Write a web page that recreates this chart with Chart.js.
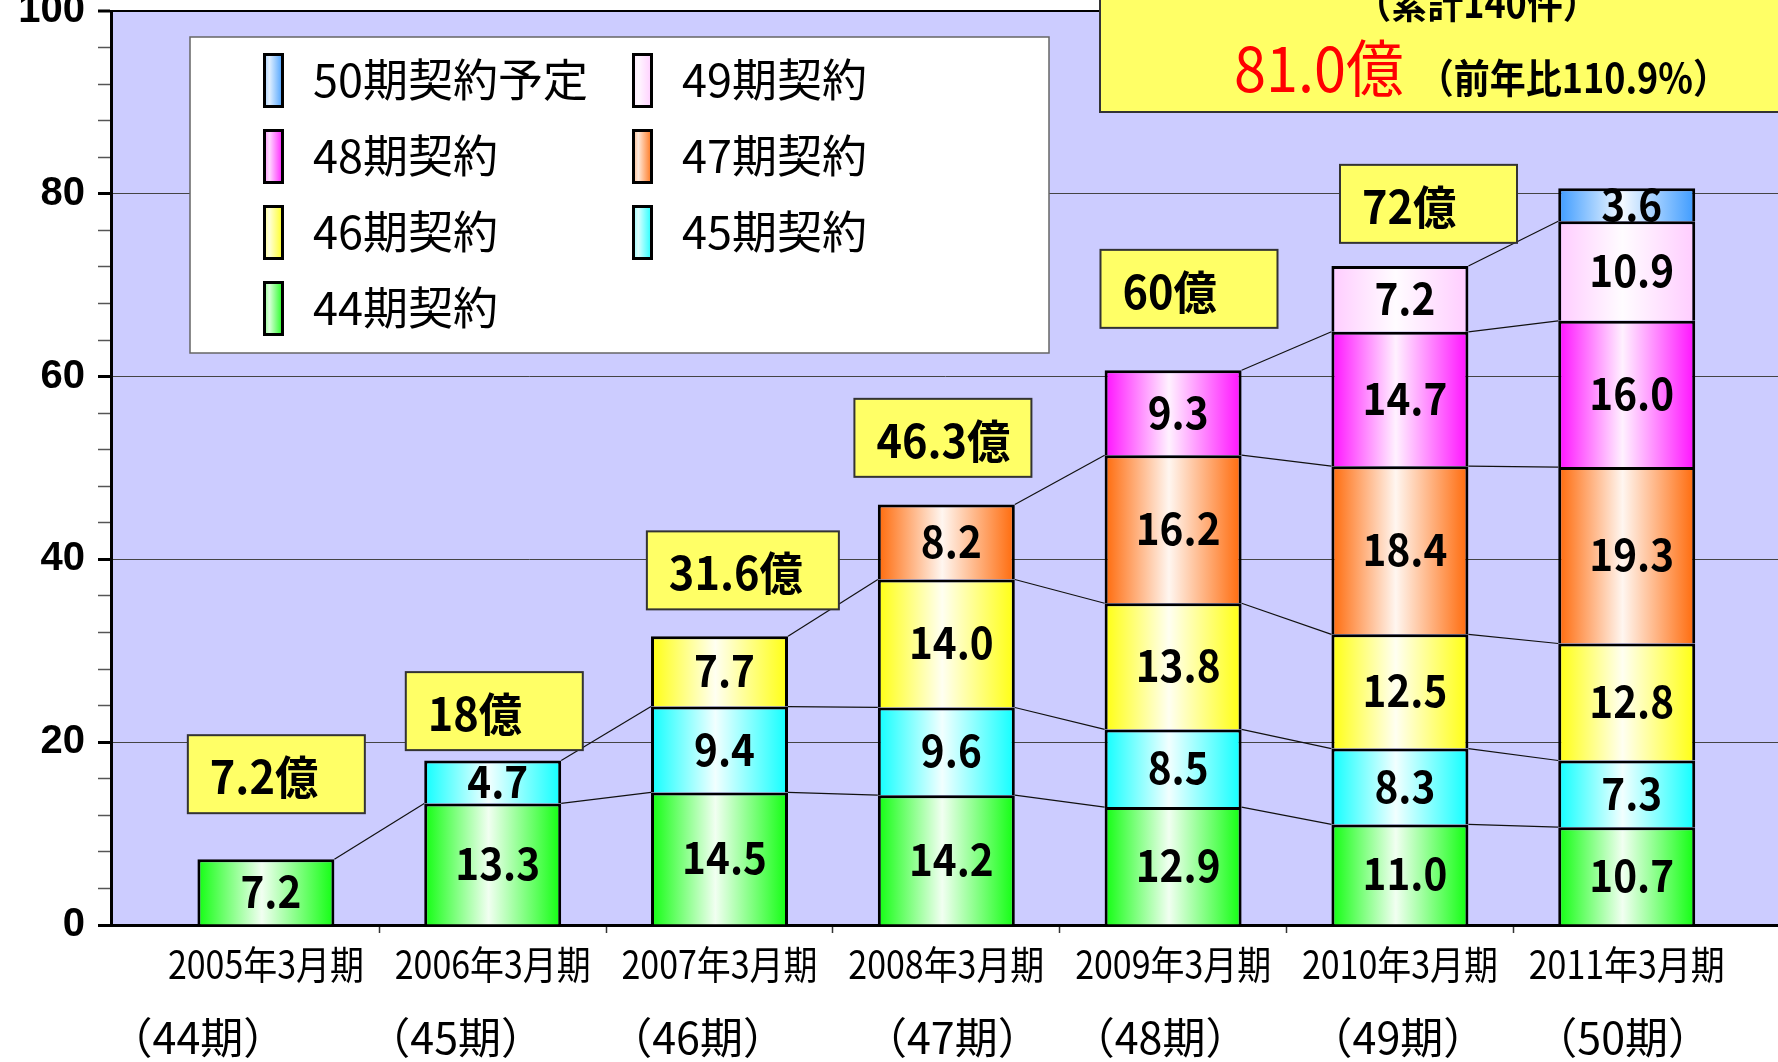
<!DOCTYPE html>
<html>
<head>
<meta charset="utf-8">
<script src="https://cdn.jsdelivr.net/npm/chart.js@4.4.0/dist/chart.umd.min.js"></script>
<style>
  html, body { margin: 0; padding: 0; background: #fff; }
  canvas { display: block; }
</style>
</head>
<body>
<canvas id="chart" width="1778" height="1062"></canvas>
<script>
// 期ごとのカテゴリ
const periods = ['2005年3月期', '2006年3月期', '2007年3月期', '2008年3月期', '2009年3月期', '2010年3月期', '2011年3月期'];
const periodNos = ['（44期）', '（45期）', '（46期）', '（47期）', '（48期）', '（49期）', '（50期）'];

// 系列（下から順に積み上げ）
const seriesNames = ['44期契約', '45期契約', '46期契約', '47期契約', '48期契約', '49期契約', '50期契約予定'];
const c44 = [7.2, 13.3, 14.5, 14.2, 12.9, 11.0, 10.7];
const c45 = [null, 4.7, 9.4, 9.6, 8.5, 8.3, 7.3];
const c46 = [null, null, 7.7, 14.0, 13.8, 12.5, 12.8];
const c47 = [null, null, null, 8.2, 16.2, 18.4, 19.3];
const c48 = [null, null, null, null, 9.3, 14.7, 16.0];
const c49 = [null, null, null, null, null, 7.2, 10.9];
const c50 = [null, null, null, null, null, null, 3.6];

// 合計の吹き出し
const totalLabels = ['7.2億', '18億', '31.6億', '46.3億', '60億', '72億'];
const summaryCount = '（累計140件）';
const summaryTotal = '81.0億';
const summaryRatio = '（前年比110.9%）';

// Y軸目盛
const yLabels = [0, 20, 40, 60, 80, 100];

// --------------------------------------------
const seriesValues = [c44, c45, c46, c47, c48, c49, c50];
const stackColors = ['#11ff11', '#11ffff', '#ffff11', '#ff6a0a', '#ff11ff', '#ffccff', '#3d9bff'];
const BAR_PCT = 0.604;
const JP = '"Noto Sans CJK JP", "Noto Sans CJK SC", sans-serif';

// 吹き出しの位置（データ単位）と幅
const boxSpots = [
  { x: 0.046, y: 16.5, w: 177 },
  { x: 1.007, y: 23.4, w: 177 },
  { x: 2.103, y: 38.8, w: 192 },
  { x: 2.985, y: 53.3, w: 177 },
  { x: 4.07, y: 69.6, w: 177 },
  { x: 5.126, y: 78.9, w: 177 }
];
// 期番号ラベルのずれ
const periodNoShift = [-68, -37, -22, 6, -13, -2, -4];

function mixWhite(hex, t) {
  const n = parseInt(hex.slice(1), 16);
  const r = (n >> 16) & 255, g = (n >> 8) & 255, b = n & 255;
  const m = v => Math.round(v + (255 - v) * t);
  return 'rgb(' + m(r) + ',' + m(g) + ',' + m(b) + ')';
}

function barFill(base) {
  return (ctx) => {
    const xs = ctx.chart.scales.x;
    if (ctx.type !== 'data' || !xs) return base;
    const cx = xs.getPixelForValue(ctx.dataIndex);
    const half = (xs.getPixelForValue(1) - xs.getPixelForValue(0)) * BAR_PCT / 2;
    if (!isFinite(cx) || !isFinite(half)) return base;
    const g = ctx.chart.ctx.createLinearGradient(cx - half, 0, cx + half, 0);
    g.addColorStop(0, base);
    g.addColorStop(0.47, mixWhite(base, 0.94));
    g.addColorStop(1, base);
    return g;
  };
}

function text(ctx, str, x, y, font, align, sx, color) {
  ctx.save();
  ctx.font = font;
  ctx.fillStyle = color || '#000';
  ctx.textAlign = align;
  ctx.textBaseline = 'alphabetic';
  ctx.translate(x, y);
  ctx.scale(sx, 1);
  ctx.fillText(str, 0, 0);
  ctx.restore();
}

function textWidth(ctx, str, font, sx) {
  ctx.save();
  ctx.font = font;
  const w = ctx.measureText(str).width * sx;
  ctx.restore();
  return w;
}

const datasets = seriesValues.map((vals, s) => ({
  label: seriesNames[s],
  data: vals.map((v, i) => ({ x: i, y: v })),
  backgroundColor: barFill(stackColors[s]),
  borderColor: '#000',
  borderWidth: 3,
  barPercentage: BAR_PCT,
  categoryPercentage: 1,
  stack: 'total'
}));

const plotBg = {
  id: 'plotBg',
  beforeDraw(chart) {
    const a = chart.chartArea, ctx = chart.ctx;
    ctx.save();
    ctx.fillStyle = '#ccccff';
    ctx.fillRect(a.left, a.top, a.right - a.left, a.bottom - a.top);
    ctx.restore();
  }
};

const seriesLines = {
  id: 'seriesLines',
  afterDatasetsDraw(chart) {
    const ctx = chart.ctx;
    ctx.save();
    ctx.strokeStyle = '#111';
    ctx.lineWidth = 1.2;
    chart.data.datasets.forEach((ds, d) => {
      const meta = chart.getDatasetMeta(d);
      for (let i = 0; i < ds.data.length - 1; i++) {
        if (ds.data[i].y == null || ds.data[i + 1].y == null) continue;
        const a = meta.data[i], b = meta.data[i + 1];
        ctx.beginPath();
        ctx.moveTo(a.x + a.width / 2, a.y);
        ctx.lineTo(b.x - b.width / 2, b.y);
        ctx.stroke();
      }
    });
    ctx.restore();
    // 値ラベル
    chart.data.datasets.forEach((ds, d) => {
      const meta = chart.getDatasetMeta(d);
      ds.data.forEach((p, i) => {
        if (p.y == null) return;
        const el = meta.data[i];
        const cy = (el.y + el.base) / 2;
        text(ctx, p.y.toFixed(1), el.x + 5, cy + 16, 'bold 44px ' + JP, 'center', 0.92);
      });
    });
  }
};

const extras = {
  id: 'extras',
  afterDraw(chart) {
    const ctx = chart.ctx, xs = chart.scales.x, ys = chart.scales.y;

    // X軸ラベル
    periods.forEach((p, i) => {
      const cx = xs.getPixelForValue(i);
      text(ctx, p, cx, 979, '39px ' + JP, 'center', 0.87);
      text(ctx, periodNos[i], cx + periodNoShift[i], 1054, '43px ' + JP, 'center', 1);
    });

    // 合計の吹き出し
    totalLabels.forEach((t, i) => {
      const s = boxSpots[i];
      const cx = xs.getPixelForValue(s.x), cy = ys.getPixelForValue(s.y);
      const h = 78, left = cx - s.w / 2, top = cy - h / 2;
      ctx.save();
      ctx.fillStyle = '#ffff66';
      ctx.fillRect(left, top, s.w, h);
      ctx.strokeStyle = '#333';
      ctx.lineWidth = 2;
      ctx.strokeRect(left, top, s.w, h);
      ctx.restore();
      text(ctx, t, left + 22, cy + 20, 'bold 46px ' + JP, 'left', 0.94);
    });

    // 右上の合計ボックス
    ctx.save();
    ctx.fillStyle = '#ffff66';
    ctx.fillRect(1100, -5, 700, 117);
    ctx.strokeStyle = '#333';
    ctx.lineWidth = 2;
    ctx.strokeRect(1100, -5, 700, 117);
    ctx.restore();
    text(ctx, summaryCount, 1477, 18, 'bold 40px ' + JP, 'center', 0.9);
    const f1 = '62px ' + JP, f2 = 'bold 40px ' + JP;
    const w1 = textWidth(ctx, summaryTotal, f1, 0.93);
    text(ctx, summaryTotal, 1234, 92, f1, 'left', 0.93, '#ff0000');
    text(ctx, summaryRatio, 1234 + w1 + 14, 93, f2, 'left', 0.9);

    // 凡例
    ctx.save();
    ctx.fillStyle = '#fff';
    ctx.fillRect(190, 37, 859, 316);
    ctx.strokeStyle = '#666';
    ctx.lineWidth = 1.5;
    ctx.strokeRect(190, 37, 859, 316);
    ctx.restore();
    const order = chart.data.datasets.map((_, d) => d).reverse();
    order.forEach((d, k) => {
      const col = k % 2, row = Math.floor(k / 2);
      const sx = col === 0 ? 263 : 632;
      const cy = 80.5 + row * 76;
      const base = stackColors[d];
      const g = ctx.createLinearGradient(sx, 0, sx + 21, 0);
      g.addColorStop(0, mixWhite(base, 0.45));
      g.addColorStop(0.3, mixWhite(base, 0.85));
      g.addColorStop(1, base);
      ctx.save();
      ctx.fillStyle = '#000';
      ctx.fillRect(sx, cy - 27.5, 21, 55);
      ctx.fillStyle = g;
      ctx.fillRect(sx + 3, cy - 24.5, 15, 49);
      ctx.restore();
      text(ctx, chart.data.datasets[d].label, sx + 50, cy + 16, '45px ' + JP, 'left', 1);
    });
  }
};

new Chart(document.getElementById('chart'), {
  type: 'bar',
  data: { datasets: datasets },
  options: {
    responsive: false,
    animation: false,
    events: [],
    layout: { padding: { top: 11, left: 0, right: 0, bottom: 0 } },
    plugins: { legend: { display: false }, tooltip: { enabled: false } },
    scales: {
      x: {
        type: 'linear',
        stacked: true,
        offset: false,
        min: -0.683,
        max: 6.667,
        afterBuildTicks(axis) {
          axis.ticks = periods.slice(1).map((_, i) => ({ value: i + 0.5 }));
        },
        ticks: { display: false },
        grid: { offset: false, drawOnChartArea: false, drawTicks: true, tickLength: 8, tickColor: '#333', tickWidth: 1.5 },
        border: { display: true, color: '#000', width: 3 },
        afterFit(axis) {
          axis.height = 137;
          axis.paddingLeft = 0;
          axis.paddingRight = 0;
        }
      },
      y: {
        stacked: true,
        min: 0,
        max: 100,
        ticks: {
          stepSize: 4,
          autoSkip: false,
          padding: 13,
          color: '#000',
          font: { family: '"Liberation Sans", Arial, sans-serif', size: 40, weight: 'bold' },
          callback: v => yLabels.includes(v) ? String(v) : ''
        },
        grid: {
          color: c => {
            const v = c.tick.value;
            if (v === 0) return 'rgba(0,0,0,0)';
            if (v === 100) return '#000';
            return v % 20 === 0 ? '#444' : 'rgba(0,0,0,0)';
          },
          lineWidth: c => c.tick.value === 100 ? 2 : 1,
          tickLength: 13,
          tickColor: c => c.tick.value % 20 === 0 ? '#000' : '#555',
          tickWidth: c => c.tick.value % 20 === 0 ? 3 : 1.5
        },
        border: { display: true, color: '#000', width: 3 },
        afterFit(axis) {
          axis.width = 111;
          axis.paddingTop = 0;
          axis.paddingBottom = 0;
        }
      }
    }
  },
  plugins: [plotBg, seriesLines, extras]
});
</script>
</body>
</html>
